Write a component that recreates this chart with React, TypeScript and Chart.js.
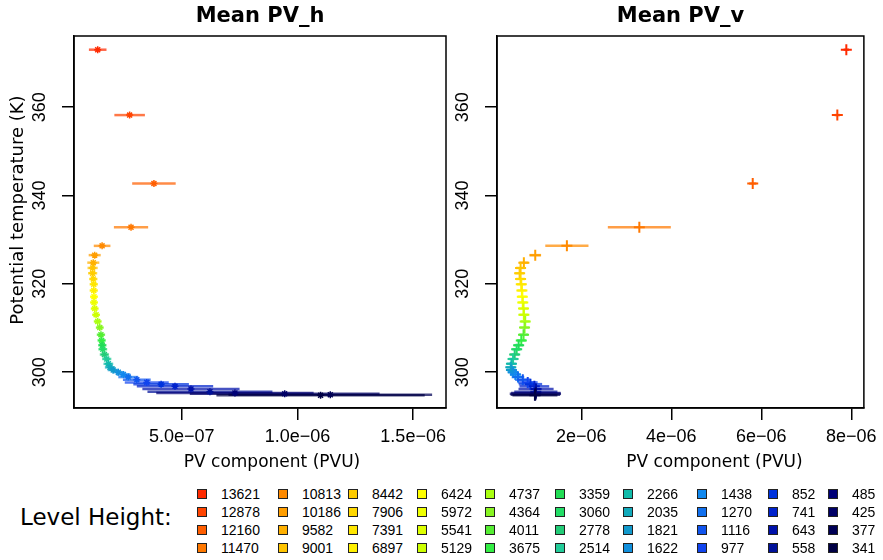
import React, { useEffect, useRef } from "react";
import { Chart, registerables } from "chart.js";

Chart.register(...registerables);

// ---- data ----
const levelHeights = [
  13621, 12878, 12160, 11470, 10813, 10186, 9582, 9001, 8442, 7906,
  7391, 6897, 6424, 5972, 5541, 5129, 4737, 4364, 4011, 3675,
  3359, 3060, 2778, 2514, 2266, 2035, 1821, 1622, 1438, 1270,
  1116, 977, 852, 741, 643, 558, 485, 425, 377, 341,
];

const levelColors = [
  "#FF2A00", "#FF4400", "#FF5E00", "#FF7800", "#FF8A00", "#FF9E00", "#FFB000", "#FFC400", "#FFCC00", "#FFD800",
  "#FFE600", "#FFF000", "#FFFF00", "#EEFF00", "#DDFF00", "#CCFF00", "#AAFF11", "#88F522", "#55EE33", "#33EE44",
  "#22DD55", "#22DD66", "#22CC77", "#22CC99", "#11BBAA", "#11AABB", "#1199CC", "#1190DD", "#1188EE", "#1170EE",
  "#1155EE", "#1144EE", "#0033DD", "#0022CC", "#0011AA", "#001199", "#000077", "#000066", "#000055", "#000044",
];

const theta = [
  373.0, 358.2, 342.7, 332.8, 328.6, 326.5, 324.8, 323.6, 322.4, 321.1,
  319.9, 318.5, 317.1, 315.8, 314.4, 313.0, 311.5, 310.1, 308.5, 307.2,
  306.1, 305.2, 304.0, 303.0, 301.9, 301.1, 300.5, 300.0, 299.5, 298.9,
  298.3, 297.7, 297.3, 296.8, 296.2, 295.6, 295.3, 295.1, 294.9, 294.8,
];

const pvhMean = [
  0.137e-6, 0.275e-6, 0.380e-6, 0.281e-6, 0.156e-6, 0.124e-6, 0.118e-6, 0.115e-6, 0.115e-6, 0.118e-6,
  0.120e-6, 0.120e-6, 0.121e-6, 0.121e-6, 0.124e-6, 0.130e-6, 0.137e-6, 0.146e-6, 0.151e-6, 0.154e-6,
  0.157e-6, 0.159e-6, 0.166e-6, 0.176e-6, 0.183e-6, 0.190e-6, 0.204e-6, 0.226e-6, 0.248e-6, 0.269e-6,
  0.306e-6, 0.349e-6, 0.411e-6, 0.471e-6, 0.540e-6, 0.622e-6, 0.730e-6, 0.945e-6, 1.142e-6, 1.100e-6,
];

const pvhErr = [
  0.038e-6, 0.066e-6, 0.094e-6, 0.074e-6, 0.036e-6, 0.026e-6, 0.026e-6, 0.022e-6, 0.020e-6, 0.018e-6,
  0.018e-6, 0.018e-6, 0.017e-6, 0.017e-6, 0.017e-6, 0.017e-6, 0.017e-6, 0.017e-6, 0.018e-6, 0.018e-6,
  0.018e-6, 0.019e-6, 0.020e-6, 0.020e-6, 0.021e-6, 0.022e-6, 0.024e-6, 0.026e-6, 0.030e-6, 0.043e-6,
  0.060e-6, 0.095e-6, 0.120e-6, 0.165e-6, 0.210e-6, 0.270e-6, 0.340e-6, 0.410e-6, 0.440e-6, 0.450e-6,
];

const pvvMean = [
  7.89e-6, 7.69e-6, 5.81e-6, 3.29e-6, 1.68e-6, 0.977e-6, 0.724e-6, 0.651e-6, 0.630e-6, 0.651e-6,
  0.667e-6, 0.680e-6, 0.690e-6, 0.700e-6, 0.717e-6, 0.724e-6, 0.754e-6, 0.739e-6, 0.717e-6, 0.667e-6,
  0.608e-6, 0.564e-6, 0.520e-6, 0.484e-6, 0.448e-6, 0.433e-6, 0.448e-6, 0.484e-6, 0.535e-6, 0.593e-6,
  0.700e-6, 0.810e-6, 0.870e-6, 0.957e-6, 0.995e-6, 0.990e-6, 0.990e-6, 0.980e-6, 0.980e-6, 0.970e-6,
];

const pvvErr = [
  0.06e-6, 0.06e-6, 0.08e-6, 0.70e-6, 0.48e-6, 0.13e-6, 0.10e-6, 0.10e-6, 0.10e-6, 0.10e-6,
  0.10e-6, 0.10e-6, 0.10e-6, 0.10e-6, 0.10e-6, 0.10e-6, 0.10e-6, 0.10e-6, 0.10e-6, 0.10e-6,
  0.10e-6, 0.10e-6, 0.10e-6, 0.10e-6, 0.10e-6, 0.10e-6, 0.10e-6, 0.11e-6, 0.12e-6, 0.14e-6,
  0.17e-6, 0.22e-6, 0.26e-6, 0.33e-6, 0.39e-6, 0.48e-6, 0.55e-6, 0.57e-6, 0.55e-6, 0.50e-6,
];

const leftXTicks = [5e-7, 1e-6, 1.5e-6];
const leftXLabels = ["5.0e\u221207", "1.0e\u221206", "1.5e\u221206"];
const rightXTicks = [2e-6, 4e-6, 6e-6, 8e-6];
const rightXLabels = ["2e\u221206", "4e\u221206", "6e\u221206", "8e\u221206"];
const yTicks = [300, 320, 340, 360];
const yLabels = ["300", "320", "340", "360"];

const panelTitles = ["Mean PV_h", "Mean PV_v"];
const xTitle = "PV component (PVU)";
const yTitle = "Potential temperature (K)";
const legendTitle = "Level Height:";

// ---- helpers ----
function withAlpha(hex: string, a: number) {
  const r = parseInt(hex.slice(1, 3), 16);
  const g = parseInt(hex.slice(3, 5), 16);
  const b = parseInt(hex.slice(5, 7), 16);
  return `rgba(${r},${g},${b},${a})`;
}

function buildDatasets(means: number[], errs: number[], style: string, radius: number, bw: number) {
  const bars = levelHeights.map((h, i) => ({
    type: "line" as const,
    label: `err ${h}`,
    data: [
      { x: means[i] - errs[i], y: theta[i] },
      { x: means[i] + errs[i], y: theta[i] },
    ],
    borderColor: withAlpha(levelColors[i], 0.72),
    borderWidth: 2.5,
    pointRadius: 0,
    fill: false,
    order: 1000 - i,
  }));
  const pts = levelHeights.map((h, i) => ({
    type: "scatter" as const,
    label: `${h}`,
    data: [{ x: means[i], y: theta[i] }],
    pointStyle: style,
    pointRadius: radius,
    pointBorderWidth: bw,
    borderColor: levelColors[i],
    backgroundColor: levelColors[i],
    order: 500 - i,
  }));
  return [...bars, ...pts];
}

const boxPlugin = {
  id: "plotBox",
  afterDatasetsDraw(chart: any) {
    const { ctx, chartArea } = chart;
    const { left, top, right, bottom } = chartArea;
    const o = chart.options.plugins.panelText || {};
    ctx.save();
    ctx.strokeStyle = "#000";
    ctx.lineWidth = 1.5;
    ctx.strokeRect(left, top, right - left, bottom - top);
    ctx.fillStyle = "#000";
    ctx.textAlign = "center";
    ctx.textBaseline = "middle";
    if (o.title) {
      ctx.font = "bold 21px 'DejaVu Sans'";
      ctx.fillText(o.title, (left + right) / 2, 17);
    }
    if (o.xTitle) {
      ctx.font = "17px 'DejaVu Sans'";
      ctx.fillText(o.xTitle, (left + right) / 2 + o.xShift, 463);
    }
    if (o.yTitle) {
      ctx.font = "18px 'DejaVu Sans'";
      ctx.translate(18, (top + bottom) / 2 + o.yShift);
      ctx.rotate(-Math.PI / 2);
      ctx.fillText(o.yTitle, 0, 0);
    }
    ctx.restore();
  },
};

function makeOptions(
  title: string,
  xmin: number,
  xmax: number,
  xt: number[],
  xl: string[],
  yWidth: number,
  showYTitle: boolean,
  padRight: number,
  xShift: number
) {
  return {
    animation: false,
    responsive: false,
    maintainAspectRatio: false,
    events: [],
    layout: { padding: { top: 36, right: padRight, left: 0, bottom: 0 } },
    plugins: {
      legend: { display: false },
      tooltip: { enabled: false },
      title: { display: false },
      panelText: {
        title,
        xTitle,
        xShift,
        yTitle: showYTitle ? yTitle : "",
        yShift: -12,
      },
    },
    scales: {
      x: {
        type: "linear",
        min: xmin,
        max: xmax,
        afterBuildTicks: (s: any) => {
          s.ticks = xt.map((v) => ({ value: v }));
        },
        afterFit: (s: any) => {
          s.height = 72;
        },
        grid: { display: true, drawOnChartArea: false, drawTicks: true, tickLength: 12, color: "#000", lineWidth: 1.5 },
        border: { display: true, color: "#000", width: 1.5 },
        ticks: {
          autoSkip: false,
          maxRotation: 0,
          minRotation: 0,
          padding: 6,
          color: "#000",
          font: { family: "'Liberation Sans'", size: 18 },
          callback: (v: number) => {
            const i = xt.indexOf(v);
            return i >= 0 ? xl[i] : "";
          },
        },
        title: { display: false },
      },
      y: {
        type: "linear",
        min: 291.9,
        max: 376.1,
        afterBuildTicks: (s: any) => {
          s.ticks = yTicks.map((v) => ({ value: v }));
        },
        afterFit: (s: any) => {
          s.width = yWidth;
        },
        grid: { display: true, drawOnChartArea: false, drawTicks: true, tickLength: 12, color: "#000", lineWidth: 1.5 },
        border: { display: true, color: "#000", width: 1.5 },
        ticks: {
          autoSkip: false,
          minRotation: 90,
          maxRotation: 90,
          crossAlign: "center",
          padding: 6.5,
          color: "#000",
          font: { family: "'Liberation Sans'", size: 18 },
          callback: (v: number) => {
            const i = yTicks.indexOf(v);
            return i >= 0 ? yLabels[i] : "";
          },
        },
        title: { display: false },
      },
    },
  };
}

function Panel(props: {
  left: number;
  width: number;
  title: string;
  means: number[];
  errs: number[];
  style: string;
  radius: number;
  bw: number;
  xmin: number;
  xmax: number;
  xt: number[];
  xl: string[];
  yWidth: number;
  showYTitle: boolean;
  padRight: number;
  xShift: number;
}) {
  const ref = useRef<HTMLCanvasElement | null>(null);
  useEffect(() => {
    if (!ref.current) return;
    const chart = new Chart(ref.current, {
      type: "scatter",
      data: { datasets: buildDatasets(props.means, props.errs, props.style, props.radius, props.bw) as any },
      options: makeOptions(
        props.title,
        props.xmin,
        props.xmax,
        props.xt,
        props.xl,
        props.yWidth,
        props.showYTitle,
        props.padRight,
        props.xShift
      ) as any,
      plugins: [boxPlugin],
    });
    return () => chart.destroy();
  }, []);
  return (
    <canvas
      ref={ref}
      width={props.width}
      height={480}
      style={{ position: "absolute", left: props.left, top: 0, width: props.width, height: 480 }}
    />
  );
}

const legendColX = [197, 278, 348, 417, 485, 555, 623, 697, 768, 828];
const legendRowY = [494, 512, 530, 548];

export default function App() {
  useEffect(() => {
    document.body.style.margin = "0";
  }, []);
  return (
    <div
      style={{
        position: "fixed",
        left: 0,
        top: 0,
        width: 883,
        height: 560,
        background: "#fff",
        overflow: "hidden",
      }}
    >
      <Panel
        left={0}
        width={460}
        title={panelTitles[0]}
        means={pvhMean}
        errs={pvhErr}
        style="star"
        radius={3.5}
        bw={1.5}
        xmin={0.0346e-6}
        xmax={1.642e-6}
        xt={leftXTicks}
        xl={leftXLabels}
        yWidth={74}
        showYTitle={true}
        padRight={14}
        xShift={12}
      />
      <Panel
        left={440}
        width={443}
        title={panelTitles[1]}
        means={pvvMean}
        errs={pvvErr}
        style="cross"
        radius={5.5}
        bw={2}
        xmin={0.127e-6}
        xmax={8.28e-6}
        xt={rightXTicks}
        xl={rightXLabels}
        yWidth={57}
        showYTitle={false}
        padRight={13}
        xShift={34}
      />
      <div
        style={{
          position: "absolute",
          left: 20,
          top: 517,
          transform: "translateY(-50%)",
          fontFamily: "'DejaVu Sans'",
          fontSize: 23,
          color: "#000",
          whiteSpace: "nowrap",
          lineHeight: 1,
        }}
      >
        {legendTitle}
      </div>
      {levelHeights.map((h, i) => {
        const col = Math.floor(i / 4);
        const row = i % 4;
        const x = legendColX[col];
        const y = legendRowY[row];
        return (
          <div key={h}>
            <div
              style={{
                position: "absolute",
                left: x,
                top: y - 5,
                width: 8,
                height: 8,
                background: levelColors[i],
                border: "1px solid #222",
              }}
            />
            <div
              style={{
                position: "absolute",
                left: x + 24,
                top: y,
                transform: "translateY(-50%)",
                fontFamily: "'Liberation Sans'",
                fontSize: 14,
                lineHeight: 1,
                color: "#000",
                whiteSpace: "nowrap",
              }}
            >
              {h}
            </div>
          </div>
        );
      })}
    </div>
  );
}
